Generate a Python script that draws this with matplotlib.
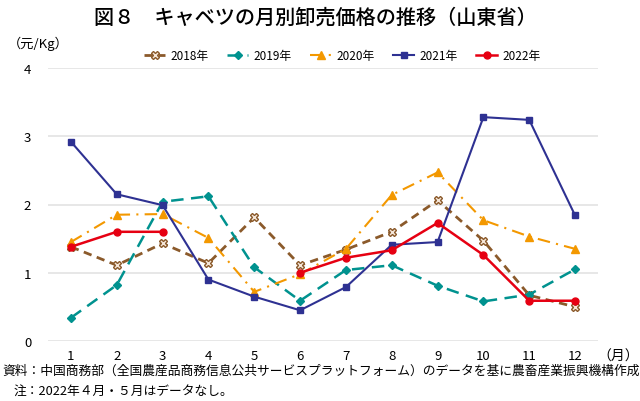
import matplotlib.pyplot as plt
import numpy as np

plt.rcParams['font.family'] = ['Noto Sans CJK JP', 'DejaVu Sans']

months = list(range(1, 13))
y2018 = [1.38, 1.11, 1.43, 1.14, 1.81, 1.11, 1.34, 1.60, 2.06, 1.47, 0.67, 0.50]
y2019 = [0.34, 0.82, 2.04, 2.12, 1.08, 0.59, 1.04, 1.11, 0.81, 0.58, 0.68, 1.05]
y2020 = [1.45, 1.85, 1.86, 1.51, 0.72, 0.98, 1.35, 2.14, 2.47, 1.77, 1.53, 1.35]
y2021 = [2.92, 2.15, 1.99, 0.90, 0.65, 0.45, 0.79, 1.41, 1.45, 3.28, 3.24, 1.84]
y2022 = [1.38, 1.60, 1.60, np.nan, np.nan, 1.00, 1.22, 1.33, 1.73, 1.26, 0.59, 0.59]

fig = plt.figure(figsize=(6.4, 4.02), dpi=100)
ax = fig.add_axes([48/640, 1-342/402, 550/640, 273/402])

ax.plot(months, y2018, color="#8B5A2B", linestyle=(0, (3, 2)), linewidth=2,
        marker="X", markersize=6, markerfacecolor="#f5e6d8", markeredgecolor="#8B5A2B",
        markeredgewidth=1, label="2018年")
ax.plot(months, y2019, color="#00928F", linestyle=(0, (5, 3)), linewidth=1.8,
        marker="D", markersize=4, label="2019年")
ax.plot(months, y2020, color="#F39800", linestyle=(0, (6, 3, 1, 3)), linewidth=1.5,
        marker="^", markersize=6, label="2020年")
ax.plot(months, y2021, color="#2E3192", linestyle="-", linewidth=1.5,
        marker="s", markersize=5, label="2021年")
ax.plot(months, y2022, color="#E60012", linestyle="-", linewidth=1.8,
        marker="o", markersize=5, label="2022年")

ax.set_xlim(0.5, 12.5)
ax.set_ylim(0, 4)
ax.set_yticks([0, 1, 2, 3, 4])
ax.set_xticks(months)
ax.grid(axis="y", color="#e3e3e3", linewidth=1.2)
ax.set_axisbelow(True)
for s in ax.spines.values():
    s.set_visible(False)
ax.tick_params(length=0, labelsize=9.5, pad=6)
ax.tick_params(axis="y", pad=12)

fig.text(0.492, 0.955, "図８　キャベツの月別卸売価格の推移（山東省）", ha="center", va="center",
         fontsize=14.5, fontweight="medium")
fig.text(8/640, 1-44/402, "（元/Kg）", ha="left", va="center", fontsize=9.5)
fig.text(597/640, 1-357/402, "（月）", ha="left", va="center", fontsize=10)

ax.legend(loc="center", bbox_to_anchor=(0.535, 1.045), ncol=5, frameon=False,
          fontsize=8.5, handlelength=1.8, columnspacing=1.6, handletextpad=0.4)

fig.text(2/640, 1-371/402, "資料：中国商務部（全国農産品商務信息公共サービスプラットフォーム）のデータを基に農畜産業振興機構作成",
         ha="left", va="center", fontsize=9.2)
fig.text(14/640, 1-391/402, "注：2022年４月・５月はデータなし。", ha="left", va="center", fontsize=9.2)

fig.savefig("out.png", dpi=100)
